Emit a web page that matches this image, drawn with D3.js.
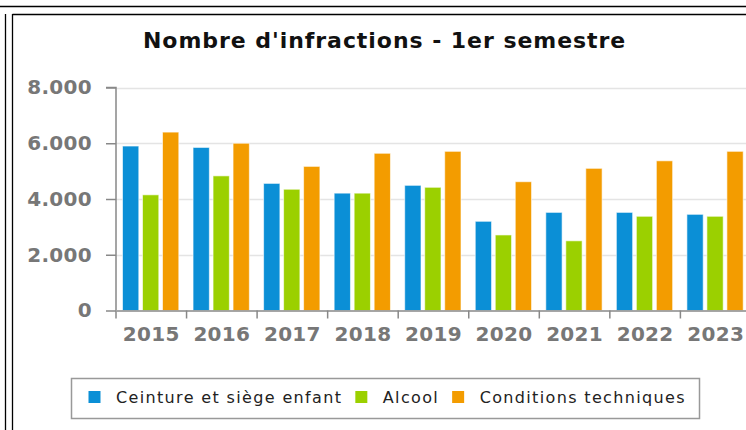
<!DOCTYPE html>
<html>
<head>
<meta charset="utf-8">
<script src="https://cdn.jsdelivr.net/npm/d3@7"></script>
<style>
  body { margin: 0; background: #fff; }
  svg { display: block; font-family: "DejaVu Sans", Verdana, sans-serif; }
</style>
</head>
<body>
<svg id="chart" width="746" height="430"></svg>
<script>
// *** Data ***
var years = ["2015", "2016", "2017", "2018", "2019", "2020", "2021", "2022", "2023"];
var seriesNames = ["Ceinture et siège enfant", "Alcool", "Conditions techniques"];
var ceinture = [5900, 5850, 4560, 4210, 4490, 3200, 3520, 3520, 3450];
var alcool = [4150, 4830, 4350, 4210, 4420, 2710, 2500, 3380, 3380];
var conditions = [6400, 6000, 5170, 5640, 5710, 4620, 5100, 5370, 5710];
var yTicks = [0, 2000, 4000, 6000, 8000];
var colors = ["#0b8fd6", "#9bd000", "#f39c00"];

var seriesValues = [ceinture, alcool, conditions];

var svg = d3.select("#chart");

// page frame lines
svg.append("path")
    .attr("d", "M0,6.5H746 M12.5,14.5H746 M5.5,14V430 M12.5,14V430")
    .attr("fill", "none")
    .attr("stroke", "#000")
    .attr("stroke-width", 1.3);

// title
svg.append("text")
    .attr("x", 143)
    .attr("y", 48)
    .attr("font-size", 22)
    .attr("font-weight", "bold")
    .attr("letter-spacing", 0.95)
    .attr("fill", "#111")
    .text("Nombre d'infractions - 1er semestre");

// *** Scales ***
var left = 116, step = 70.55;
var x0 = d3.scaleBand().domain(years).range([left, left + step * years.length]).padding(0);
var x1 = d3.scaleBand().domain(d3.range(seriesNames.length)).range([6.5, 62.8]).paddingInner(0.185).paddingOuter(0);
var y = d3.scaleLinear().domain([0, 8000]).range([310.5, 87.5]);

// gridlines
svg.append("g")
    .selectAll("line")
    .data(yTicks.filter(d => d > 0))
    .enter().append("line")
    .attr("x1", left)
    .attr("x2", 746)
    .attr("y1", d => Math.round(y(d)) + 0.5)
    .attr("y2", d => Math.round(y(d)) + 0.5)
    .attr("stroke", "#e4e4e4")
    .attr("stroke-width", 1.3);

// bars
var groups = svg.append("g")
    .selectAll("g")
    .data(years)
    .enter().append("g")
    .attr("transform", d => "translate(" + x0(d) + ",0)");

groups.selectAll("rect")
    .data((d, i) => seriesValues.map((s, k) => ({k: k, value: s[i]})))
    .enter().append("rect")
    .attr("x", d => x1(d.k))
    .attr("y", d => y(d.value))
    .attr("width", x1.bandwidth())
    .attr("height", d => y(0) - y(d.value))
    .attr("fill", d => colors[d.k])
    .attr("stroke", "#fff")
    .attr("stroke-opacity", 0.6)
    .attr("stroke-width", 1);

// y axis
var yAxis = d3.axisLeft(y).tickValues(yTicks).tickSize(10).tickPadding(14)
    .tickFormat(d => d3.format(",")(d).replace(/,/g, "."));
var yAxisG = svg.append("g")
    .attr("transform", "translate(" + left + ",0)")
    .call(yAxis);
yAxisG.select(".domain").attr("stroke", "#888").attr("stroke-width", 1.5).attr("d", "M-10,87.5H0V310.5");
yAxisG.selectAll(".tick line").attr("stroke", "#888").attr("stroke-width", 1.5);
yAxisG.selectAll(".tick text")
    .attr("font-family", "DejaVu Sans, sans-serif")
    .attr("font-size", 20)
    .attr("font-weight", "bold")
    .attr("letter-spacing", 0.3)
    .attr("fill", "#777");

// x axis
var xAxis = d3.axisBottom(x0).tickSize(0).tickPadding(16);
var xAxisG = svg.append("g")
    .attr("transform", "translate(0," + y(0) + ")")
    .call(xAxis);
xAxisG.select(".domain").attr("stroke", "#888").attr("stroke-width", 1.5);
xAxisG.selectAll(".tick text")
    .attr("font-family", "DejaVu Sans, sans-serif")
    .attr("font-size", 20)
    .attr("font-weight", "bold")
    .attr("letter-spacing", 0.3)
    .attr("fill", "#777");
xAxisG.append("g")
    .selectAll("line")
    .data(years)
    .enter().append("line")
    .attr("x1", d => x0(d))
    .attr("x2", d => x0(d))
    .attr("y1", 0)
    .attr("y2", 8)
    .attr("stroke", "#888")
    .attr("stroke-width", 1.5);

// *** Legend ***
var legend = svg.append("g");
legend.append("rect")
    .attr("x", 71.5)
    .attr("y", 378.5)
    .attr("width", 628)
    .attr("height", 40)
    .attr("fill", "#fff")
    .attr("stroke", "#999")
    .attr("stroke-width", 1.5);

var lx = 88.5;
seriesNames.forEach(function (name, k) {
    legend.append("rect")
        .attr("x", lx)
        .attr("y", 391)
        .attr("width", 12)
        .attr("height", 12)
        .attr("fill", colors[k]);
    var t = legend.append("text")
        .attr("x", lx + 27.5)
        .attr("y", 403)
        .attr("font-size", 16)
        .attr("letter-spacing", 1.35)
        .attr("fill", "#222")
        .text(name);
    lx = lx + 27.5 + t.node().getComputedTextLength() + 13;
});
</script>
</body>
</html>
